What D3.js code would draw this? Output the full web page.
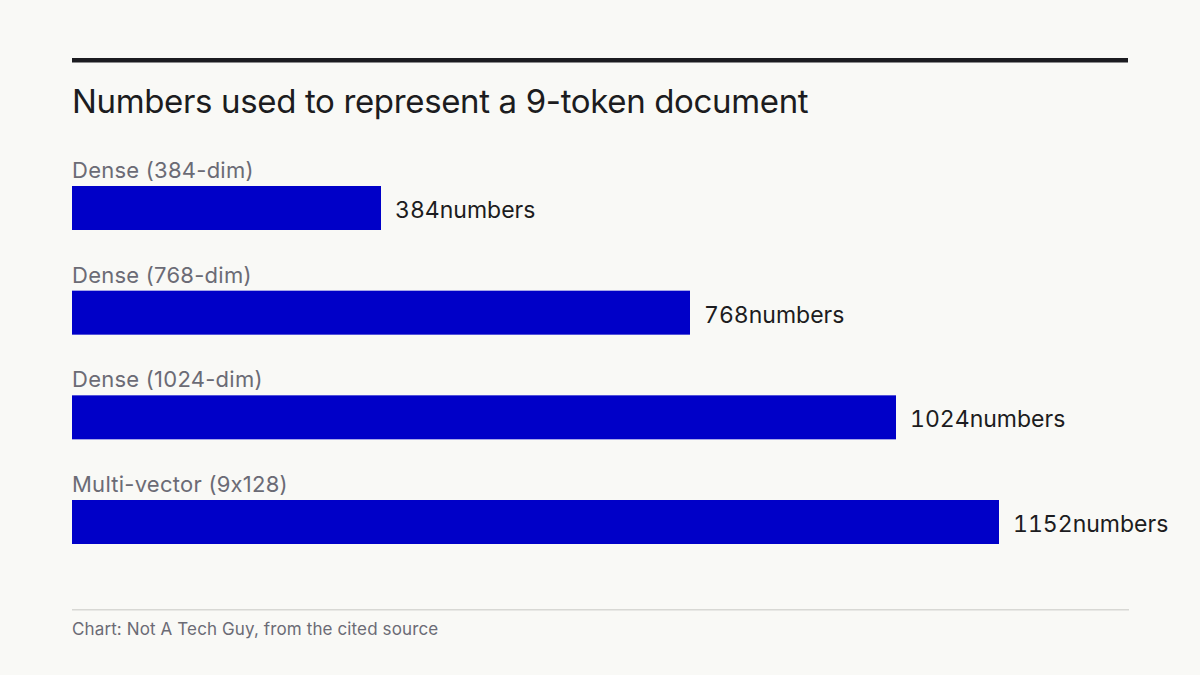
<!DOCTYPE html>
<html><head><meta charset="utf-8">
<script src="https://cdn.jsdelivr.net/npm/d3@7"></script>
<style>
html,body{margin:0;padding:0;background:#f9f9f6;}
svg{display:block;font-family:Inter,"Noto Sans",sans-serif;font-feature-settings:"calt" 0;}
.val{font-variant-numeric:tabular-nums;}
</style></head>
<body>
<svg id="chart" width="1200" height="675"></svg>
<script>
const categories = ["Dense (384-dim)", "Dense (768-dim)", "Dense (1024-dim)", "Multi-vector (9x128)"];
const values = [384, 768, 1024, 1152];
const valueSuffix = "numbers";
const title = "Numbers used to represent a 9-token document";
const source = "Chart: Not A Tech Guy, from the cited source";

const svg = d3.select("#chart");
svg.append("rect").attr("width",1200).attr("height",675).attr("fill","#f9f9f6");

svg.append("rect").attr("x",72).attr("y",58).attr("width",1056).attr("height",4.5).attr("fill","#1c1c20");

svg.append("text").attr("x",72).attr("y",113).attr("font-size",33).attr("fill","#1c1c20")
  .attr("letter-spacing","-0.35").text(title);

const x = d3.scaleLinear().domain([0,1152]).range([72,999]);
const y = d3.scaleBand().domain(categories).range([186,544]).paddingInner(1-44/104.67).paddingOuter(0);

const rows = svg.append("g").selectAll("g").data(categories).join("g");
rows.append("rect")
  .attr("x", x(0))
  .attr("y", d=>y(d))
  .attr("width", (d,i)=>x(values[i])-x(0))
  .attr("height", y.bandwidth())
  .attr("fill","#0000c8");
rows.append("text")
  .attr("x",72).attr("y",d=>y(d)-8)
  .attr("font-size",22).attr("fill","#6b6b75").attr("letter-spacing","0.25")
  .text(d=>d);
rows.append("text").attr("class","val")
  .attr("x",(d,i)=>x(values[i])+14)
  .attr("y",d=>y(d)+y.bandwidth()/2+10)
  .attr("font-size",23).attr("fill","#1c1c20")
  .text((d,i)=>values[i]+valueSuffix);

svg.append("rect").attr("x",72).attr("y",609).attr("width",1057).attr("height",1.5).attr("fill","#d8d8d4");
svg.append("text").attr("x",72).attr("y",635).attr("font-size",17).attr("fill","#6b6b75")
  .attr("letter-spacing","0.12").text(source);
</script>
</body></html>
